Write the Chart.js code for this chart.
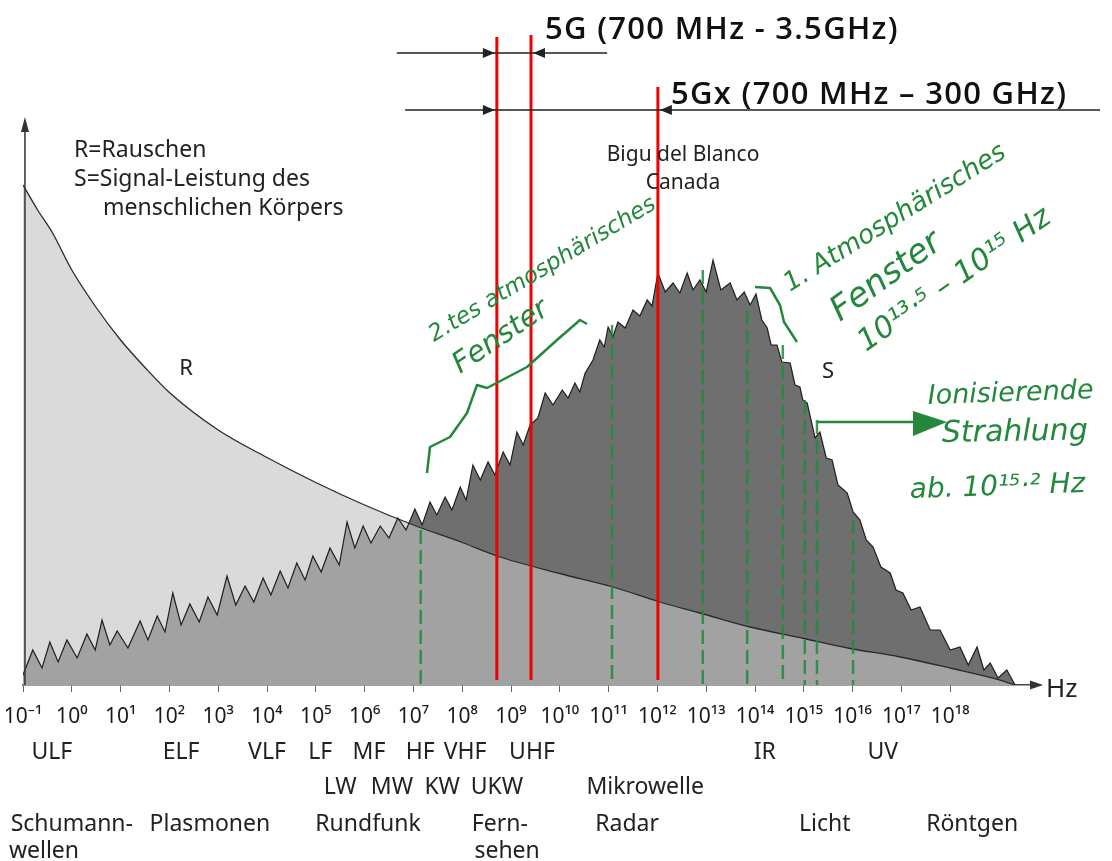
<!DOCTYPE html>
<html>
<head>
<meta charset="utf-8">
<script src="https://cdn.jsdelivr.net/npm/chart.js@4.4.1/dist/chart.umd.min.js"></script>
<style>
  body { margin: 0; background: #fff; }
  canvas { display: block; }
</style>
</head>
<body>
<canvas id="spectrumChart" width="1112" height="861"></canvas>
<script>
// frequency axis is log10(Hz); levels are relative power (0 = axis)
const tickExp = [-1, 0, 1, 2, 3, 4, 5, 6, 7, 8, 9, 10, 11, 12, 13, 14, 15, 16, 17, 18];
const tickLabels = ["10⁻¹", "10⁰", "10¹", "10²", "10³", "10⁴", "10⁵", "10⁶", "10⁷", "10⁸", "10⁹",
  "10¹⁰", "10¹¹", "10¹²", "10¹³", "10¹⁴", "10¹⁵", "10¹⁶", "10¹⁷", "10¹⁸"];

// R = Rauschen (noise)
const noiseExp = [-1, -0.7, -0.4, 0, 0.5, 1, 1.5, 2, 3, 4, 5, 6, 7, 8, 8.78, 10, 11.09, 12.05, 12.87, 13.9, 15, 15.9, 16.97, 18, 19.02, 19.33];
const noiseLevel = [100, 95, 90.5, 83, 75.5, 69, 63.5, 58.5, 51, 45.5, 40.5, 36, 32, 28.5, 25.6, 22.3, 19.6, 16.6, 14.4, 11.6, 9.3, 7.4, 5.6, 3.4, 1, 0];

// S = Signal-Leistung des menschlichen Körpers (sawtooth, peaks and valleys)
const sigExp = [-1, -0.80, -0.61, -0.45, -0.28, -0.10, 0.11, 0.31, 0.48, 0.62, 0.78, 0.93, 1.15, 1.40, 1.56, 1.75, 1.91,
  2.07, 2.24, 2.42, 2.61, 2.79, 2.98, 3.18, 3.36, 3.55, 3.73, 3.92, 4.08, 4.27, 4.43, 4.61, 4.78, 4.94, 5.11, 5.29, 5.48,
  5.64, 5.80, 5.97, 6.13, 6.32, 6.50, 6.68, 6.85, 7.03, 7.18, 7.34, 7.48, 7.65, 7.79, 7.96, 8.08, 8.22, 8.37, 8.53, 8.67,
  8.84, 8.98, 9.12, 9.25, 9.39, 9.55, 9.70, 9.86, 10.05, 10.17, 10.31, 10.41, 10.52, 10.68, 10.82, 10.91, 10.99, 11.09,
  11.19, 11.34, 11.50, 11.64, 11.79, 11.89, 12.01, 12.16, 12.32, 12.46, 12.61, 12.73, 12.87, 13.00, 13.14, 13.30, 13.49,
  13.63, 13.78, 13.90, 14.02, 14.14, 14.25, 14.33, 14.45, 14.55, 14.72, 14.82, 14.92, 14.98, 15.07, 15.23, 15.33, 15.46,
  15.58, 15.70, 15.89, 16.01, 16.15, 16.28, 16.42, 16.58, 16.77, 16.89, 17.03, 17.20, 17.38, 17.59, 17.79, 18.00, 18.20,
  18.37, 18.55, 18.69, 18.82, 18.98, 19.16, 19.33];
const sigLevel = [2, 7, 3.4, 8.6, 4.6, 9, 5.4, 10.2, 7, 13, 8, 10.8, 7.4, 12.8, 9, 13.8, 10.6,
  18.4, 12, 16.2, 12.6, 17.6, 14, 21.8, 16, 19.8, 16.6, 21.4, 18, 22.8, 19.4, 24.4, 21, 25.8, 22.6, 27.4, 24,
  32.6, 27.4, 31.8, 28.4, 31.8, 29.4, 33.4, 31, 35.2, 32, 36.6, 34, 37.6, 35, 39.6, 37, 44, 41, 44.6, 42,
  46.6, 44, 50.6, 48, 52, 53.4, 58.4, 56, 59, 57.4, 60.4, 58.6, 62.4, 65, 69, 67.6, 71.6, 69.6,
  72.6, 71.4, 75, 73.8, 77, 75.8, 82.4, 78.6, 80.4, 78.4, 82.4, 79, 81, 78.6, 85, 79, 80.4,
  77, 78.6, 76, 78.2, 73, 71.4, 68, 68, 64.6, 64.4, 60, 59.6, 57, 56.4, 49.4, 50.6, 45.4,
  45, 40, 38.4, 34.6, 33, 29, 27.6, 23.6, 22.4, 19, 18.4, 15, 15.6, 11, 11, 7, 7.6,
  4, 7.6, 3, 4.4, 1.4, 3, 0];

// red 5G markers and green hand-drawn marks
const redLineExp = [8.71, 9.41, 12.01];
const redLineTop = [129.6, 130, 119.6];
const greenLineExp = [7.15, 11.07, 12.93, 13.84, 14.57, 15.02, 15.27, 16.01];
const greenLineTop = [31, 72, 83, 75, 68, 57, 53, 33];

// band names below the axis: [text, exponent, row]
const bandLabels = [
  ["ULF", -0.41, 0], ["ELF", 2.24, 0], ["VLF", 4.0, 0], ["LF", 5.09, 0], ["MF", 6.09, 0], ["HF", 7.14, 0],
  ["VHF", 8.06, 0], ["UHF", 9.43, 0], ["IR", 14.2, 0], ["UV", 16.62, 0],
  ["LW", 5.5, 1], ["MW", 6.56, 1], ["KW", 7.59, 1], ["UKW", 8.71, 1], ["Mikrowelle", 11.75, 1],
  ["Schumann-", 0.0, 2], ["Plasmonen", 2.83, 2], ["Rundfunk", 6.07, 2], ["Fern-", 8.77, 2], ["Radar", 11.38, 2],
  ["Licht", 15.43, 2], ["Röntgen", 18.45, 2],
  ["wellen", -0.57, 3], ["sehen", 8.92, 3]
];

const toPoints = (xs, ys) => xs.map((x, i) => ({ x: x, y: ys[i] }));
const GREEN = "#23883c";
const FONT = "'Noto Sans', 'DejaVu Sans', sans-serif";
const HAND = "'DejaVu Sans', sans-serif";

function arrowHead(ctx, x, y, dir, len, half) {
  ctx.beginPath();
  ctx.moveTo(x, y);
  ctx.lineTo(x - dir * len, y - half);
  ctx.lineTo(x - dir * len, y + half);
  ctx.closePath();
  ctx.fill();
}

function rotText(ctx, text, x, y, deg, size) {
  ctx.save();
  ctx.translate(x, y);
  ctx.rotate(deg * Math.PI / 180);
  ctx.font = "italic " + size + "px " + HAND;
  ctx.textAlign = "left";
  ctx.textBaseline = "alphabetic";
  ctx.fillText(text, 0, 0);
  ctx.restore();
}

const extras = {
  id: "extras",
  afterDraw(chart) {
    const ctx = chart.ctx;
    const sx = chart.scales.x, sy = chart.scales.y;
    const px = (t) => sx.getPixelForValue(t);
    const py = (v) => sy.getPixelForValue(v);
    const base = py(0);
    ctx.save();

    // y axis with arrow
    ctx.strokeStyle = "#333";
    ctx.fillStyle = "#333";
    ctx.lineWidth = 1.5;
    ctx.beginPath();
    ctx.moveTo(px(-0.96), base);
    ctx.lineTo(px(-0.96), py(111));
    ctx.stroke();
    ctx.beginPath();
    ctx.moveTo(px(-0.96), py(113.6));
    ctx.lineTo(px(-0.96) - 4, py(110.6));
    ctx.lineTo(px(-0.96) + 4, py(110.6));
    ctx.closePath();
    ctx.fill();
    // x axis arrow
    arrowHead(ctx, chart.chartArea.right + 3, base, 1, 13, 4.5);

    // green dashed hand lines
    ctx.strokeStyle = "rgba(35,136,60,0.85)";
    ctx.lineWidth = 2.5;
    ctx.setLineDash([14, 6]);
    greenLineExp.forEach((t, i) => {
      ctx.beginPath();
      ctx.moveTo(px(t), py(greenLineTop[i]));
      ctx.lineTo(px(t), base);
      ctx.stroke();
    });
    ctx.setLineDash([]);

    // red 5G lines
    ctx.strokeStyle = "#f00000";
    ctx.lineWidth = 3;
    redLineExp.forEach((t, i) => {
      ctx.beginPath();
      ctx.moveTo(px(t), py(redLineTop[i]));
      ctx.lineTo(px(t), py(1));
      ctx.stroke();
    });

    // dimension arrows
    ctx.strokeStyle = "#222";
    ctx.fillStyle = "#222";
    ctx.lineWidth = 1.3;
    ctx.beginPath();
    ctx.moveTo(px(6.66), py(126.4));
    ctx.lineTo(px(10.97), py(126.4));
    ctx.moveTo(px(6.83), py(115));
    ctx.lineTo(1100, py(115));
    ctx.stroke();
    arrowHead(ctx, px(redLineExp[0]) - 2, py(126.4), 1, 12, 5);
    arrowHead(ctx, px(redLineExp[1]) + 2, py(126.4), -1, 12, 5);
    arrowHead(ctx, px(redLineExp[0]) - 2, py(115), 1, 12, 5);
    arrowHead(ctx, px(redLineExp[2]) + 2, py(115), -1, 12, 5);

    ctx.fillStyle = "#111";
    ctx.font = "600 31px 'Open Sans', Lato, sans-serif";
    ctx.letterSpacing = "1.3px";
    ctx.textAlign = "left";
    ctx.textBaseline = "middle";
    ctx.fillText("5G (700 MHz - 3.5GHz)", 545, 30);
    ctx.fillText("5Gx (700 MHz – 300 GHz)", 671, 95);
    ctx.letterSpacing = "0px";

    // printed texts
    ctx.fillStyle = "#222";
    ctx.font = "23px " + FONT;
    ctx.fillText("R=Rauschen", 74, 150);
    ctx.fillText("S=Signal-Leistung des", 74, 179);
    ctx.fillText("menschlichen Körpers", 103, 208);
    ctx.textAlign = "center";
    ctx.font = "21px " + FONT;
    ctx.fillText("Bigu del Blanco", 683, 155);
    ctx.fillText("Canada", 683, 183);
    ctx.font = "22px " + FONT;
    ctx.fillText("R", 186, 369);
    ctx.fillText("S", 828, 372);
    ctx.textAlign = "left";
    ctx.font = "26px " + FONT;
    ctx.fillText("Hz", 1046, 690);

    // band names
    const rowY = [752, 787, 824, 851];
    ctx.font = "23px " + FONT;
    ctx.textAlign = "center";
    bandLabels.forEach(([text, t, row]) => {
      ctx.fillText(text, px(t), rowY[row]);
    });

    // green handwritten notes
    ctx.fillStyle = GREEN;
    ctx.strokeStyle = GREEN;
    ctx.lineWidth = 2.5;
    ctx.lineJoin = "round";
    rotText(ctx, "2.tes atmosphärisches", 434, 342, -31, 23);
    rotText(ctx, "Fenster", 460, 374, -34, 29);
    rotText(ctx, "1. Atmosphärisches", 790, 292, -32, 26);
    rotText(ctx, "Fenster", 840, 322, -36, 34);
    rotText(ctx, "10¹³·⁵ – 10¹⁵ Hz", 866, 352, -35, 30);
    rotText(ctx, "Ionisierende", 928, 404, -2, 27);
    rotText(ctx, "Strahlung", 942, 442, -1, 30);
    rotText(ctx, "ab. 10¹⁵·² Hz", 910, 498, -2, 28);

    // curly marks
    ctx.beginPath();
    ctx.moveTo(427, 473);
    ctx.lineTo(430, 447);
    ctx.lineTo(450, 437);
    ctx.lineTo(467, 413);
    ctx.lineTo(477, 385);
    ctx.lineTo(487, 388);
    ctx.lineTo(527, 367);
    ctx.lineTo(557, 340);
    ctx.lineTo(580, 320);
    ctx.lineTo(587, 324);
    ctx.stroke();
    ctx.beginPath();
    ctx.moveTo(755, 287);
    ctx.lineTo(770, 288);
    ctx.lineTo(780, 305);
    ctx.lineTo(784, 322);
    ctx.lineTo(797, 342);
    ctx.stroke();
    // arrow to ionising radiation
    ctx.beginPath();
    ctx.moveTo(px(15.27), 422);
    ctx.lineTo(913, 422);
    ctx.stroke();
    ctx.beginPath();
    ctx.moveTo(913, 411);
    ctx.lineTo(947, 422);
    ctx.lineTo(913, 436);
    ctx.closePath();
    ctx.fill();

    ctx.restore();
  }
};

const ctx = document.getElementById("spectrumChart").getContext("2d");

new Chart(ctx, {
  type: "line",
  data: {
    datasets: [
      {
        label: "S outline",
        data: toPoints(sigExp, sigLevel),
        borderColor: "#1e1e1e",
        borderWidth: 1.2,
        fill: false,
        pointRadius: 0,
        order: 0,
      },
      {
        label: "R",
        data: toPoints(noiseExp, noiseLevel),
        borderColor: "#2a2a2a",
        borderWidth: 1.3,
        backgroundColor: "rgba(195,195,195,0.615)",
        fill: "origin",
        cubicInterpolationMode: "monotone",
        pointRadius: 0,
        order: 1,
      },
      {
        label: "S",
        data: toPoints(sigExp, sigLevel),
        borderWidth: 0,
        backgroundColor: "#6f6f6f",
        fill: "origin",
        pointRadius: 0,
        order: 2,
      },
    ],
  },
  options: {
    responsive: false,
    animation: false,
    devicePixelRatio: 1,
    layout: { padding: { left: 23, right: 72, top: 20, bottom: 0 } },
    plugins: { legend: { display: false }, tooltip: { enabled: false } },
    scales: {
      x: {
        type: "linear",
        min: -1,
        max: 19.84,
        afterBuildTicks: (scale) => {
          scale.ticks = tickExp.map((v) => ({ value: v }));
        },
        afterFit: (scale) => {
          scale.height = 176;
          scale.paddingLeft = 0;
          scale.paddingRight = 0;
        },
        border: { display: true, color: "#444", width: 1.5 },
        grid: { drawOnChartArea: false, drawTicks: true, tickLength: 7, color: "#666" },
        ticks: {
          autoSkip: false,
          maxRotation: 0,
          padding: 12,
          color: "#1a1a1a",
          font: { family: "'Noto Sans', 'DejaVu Sans', sans-serif", size: 21 },
          callback: (v) => tickLabels[tickExp.indexOf(v)],
        },
      },
      y: {
        display: false,
        min: 0,
        max: 133,
      },
    },
  },
  plugins: [extras],
});
</script>
</body>
</html>
